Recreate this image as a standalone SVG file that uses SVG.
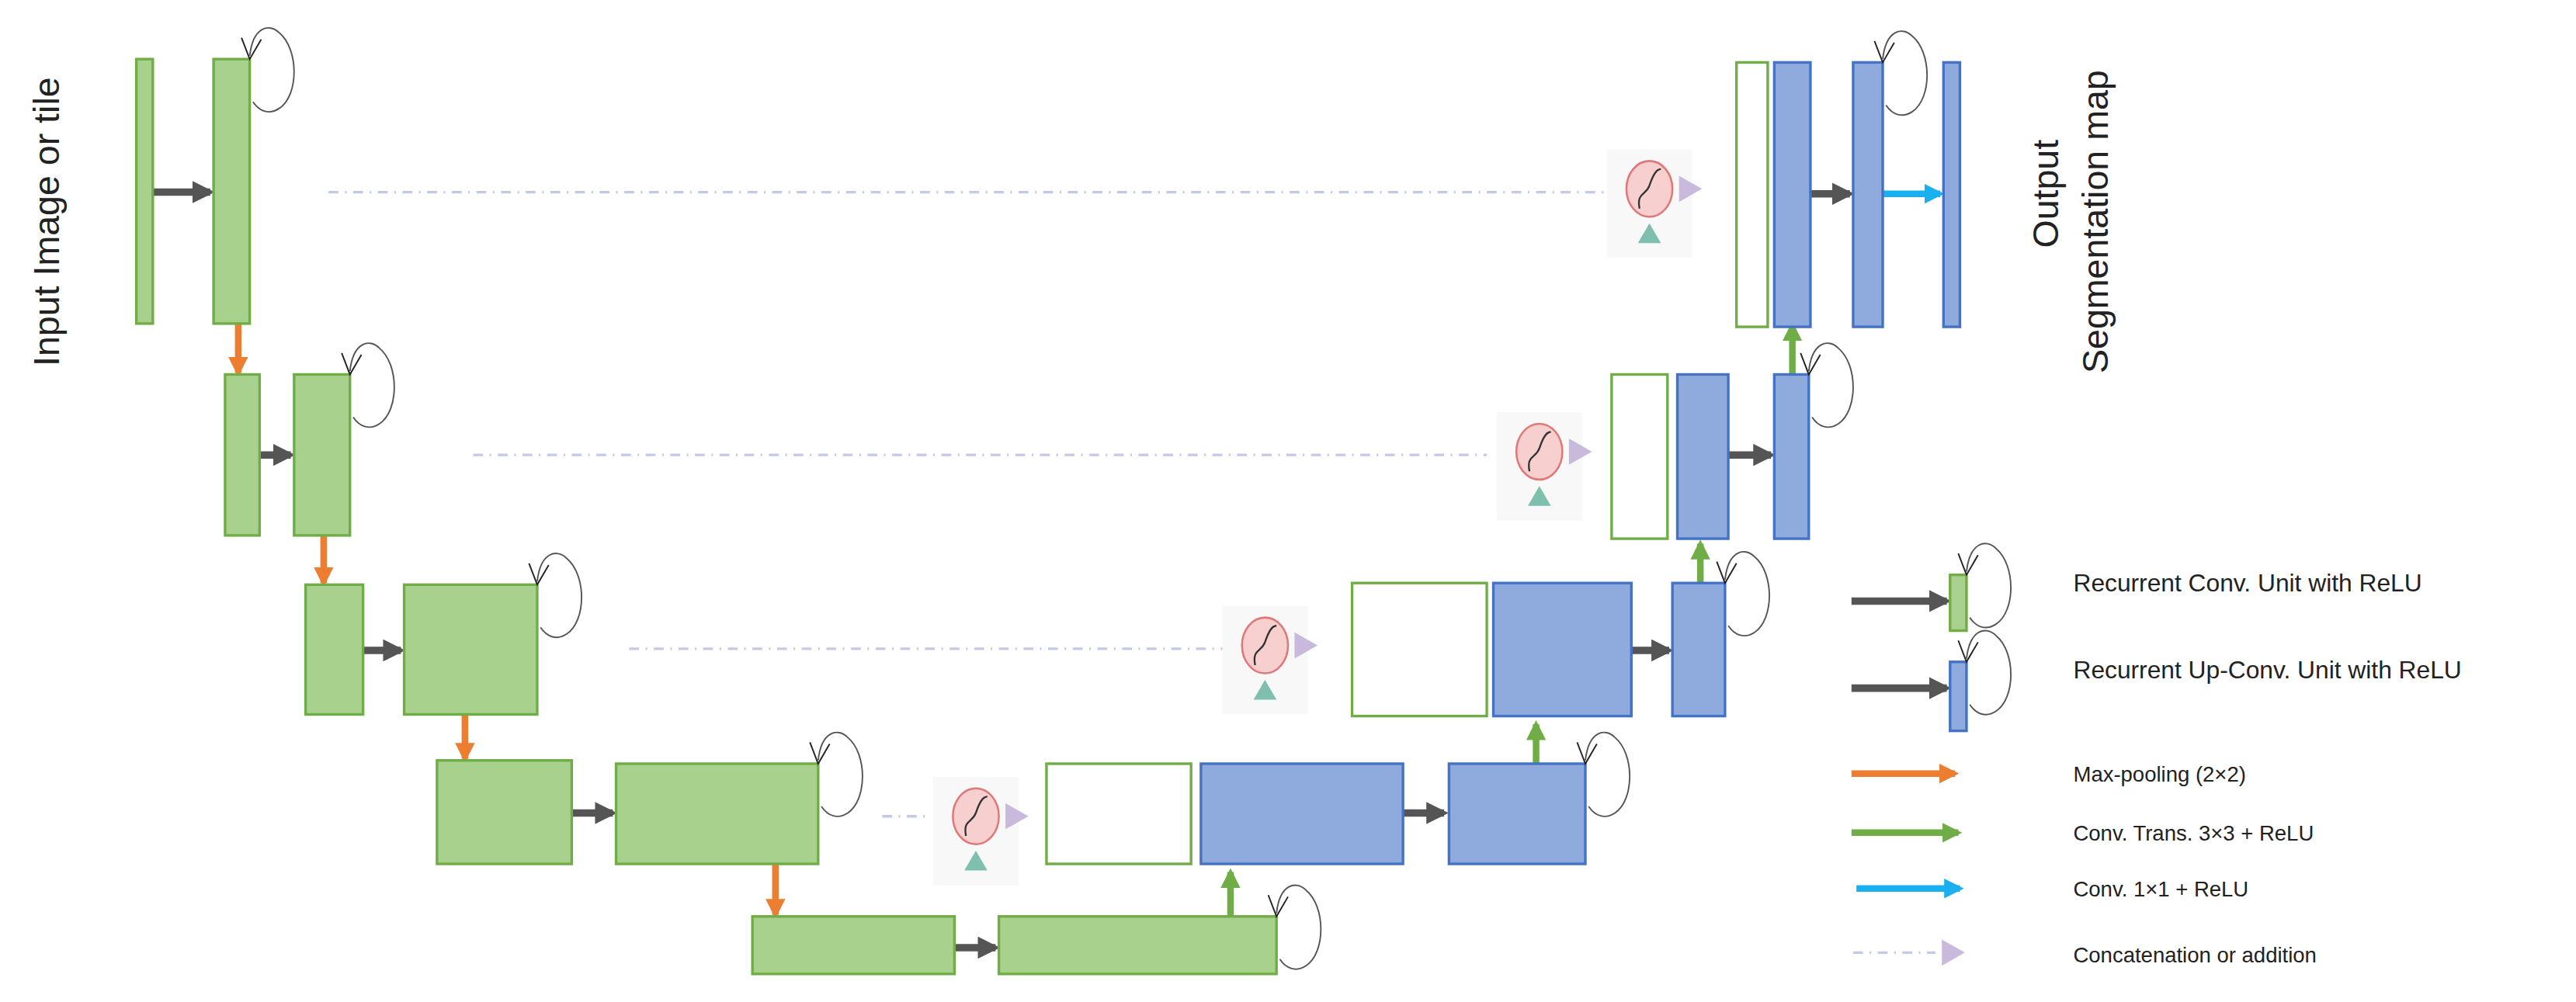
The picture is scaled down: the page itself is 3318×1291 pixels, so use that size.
<svg xmlns="http://www.w3.org/2000/svg" width="3318" height="1291" viewBox="0 0 3318 1291">
<style>
.g{fill:#a9d18e;stroke:#70ad47;stroke-width:1.6}
.b{fill:#8faadc;stroke:#4472c4;stroke-width:1.6}
.w{fill:#fff;stroke:#70ad47;stroke-width:1.6}
.lp{fill:none;stroke:#555;stroke-width:0.9}
.ah{fill:none;stroke:#222;stroke-width:0.9}
.dash{stroke:#c3c9e6;stroke-width:1.6;stroke-dasharray:6 4 1 4;fill:none}
.gr{stroke:#555;stroke-width:4.5;fill:none;marker-end:url(#mg)}
.or{stroke:#ed7d31;stroke-width:4;fill:none;marker-end:url(#mo)}
.gn{stroke:#70ad47;stroke-width:4;fill:none;marker-end:url(#mn)}
.cy{stroke:#1ab0f0;stroke-width:4;fill:none;marker-end:url(#mc)}
.t{font-family:"Liberation Sans",Arial,sans-serif;fill:#222}
.bg{fill:#f8f8f8}
.sg{fill:#f7cfcf;stroke:#e07878;stroke-width:1.2}
.sc{fill:none;stroke:#333;stroke-width:1.1}
.pt{fill:#c9b9dc}
.tt{fill:#7fbfb0}
</style>
<defs>
<marker id="mg" viewBox="0 0 10 10" refX="8" refY="5" markerWidth="3" markerHeight="3" orient="auto"><path d="M0,0L10,5L0,10z" fill="#555"/></marker>
<marker id="mo" viewBox="0 0 10 10" refX="8" refY="5" markerWidth="3" markerHeight="3" orient="auto"><path d="M0,0L10,5L0,10z" fill="#ed7d31"/></marker>
<marker id="mn" viewBox="0 0 10 10" refX="8" refY="5" markerWidth="3" markerHeight="3" orient="auto"><path d="M0,0L10,5L0,10z" fill="#70ad47"/></marker>
<marker id="mc" viewBox="0 0 10 10" refX="8" refY="5" markerWidth="3" markerHeight="3" orient="auto"><path d="M0,0L10,5L0,10z" fill="#1ab0f0"/></marker>
<g id="loop"><path class="lp" d="M0,-2 C2,-20 12,-22 18,-16 C30,-6 30,22 18,30 C12,34 6,32 2,26"/><path class="ah" d="M-5,-13 L0,0 L7,-12"/></g>
<g id="sig"><rect class="bg" x="-26" y="-24" width="52" height="66"/><ellipse class="sg" cx="0" cy="0" rx="14" ry="17"/><path class="sc" d="M-6,12 C-8,2 -2,4 0,-2 C2,-8 4,-12 7,-12"/><path class="pt" d="M18,-8 L32,0 L18,8z"/><path class="tt" d="M0,21 L7,33 L-7,33z"/></g>
</defs>
<rect width="3318" height="1291" fill="#fff"/>
<g transform="scale(2.11607)">
<text class="t" font-size="22" transform="translate(36,135) rotate(-90)" text-anchor="middle">Input Image or tile</text>
<text class="t" font-size="22" transform="translate(1253,118) rotate(-90)" text-anchor="middle">Output</text>
<text class="t" font-size="22" transform="translate(1283,135) rotate(-90)" text-anchor="middle">Segmentation map</text>

<g id="connectors">
<path class="dash" d="M200,117H985"/>
<path class="dash" d="M288,277H905"/>
<path class="dash" d="M383,395H745"/>
<path class="dash" d="M537,497H566"/>
<path class="gr" d="M93,117H128"/>
<path class="gr" d="M158,277H177"/>
<path class="gr" d="M221,396H244"/>
<path class="gr" d="M348,495H373"/>
<path class="gr" d="M581,577H606"/>
<path class="gr" d="M854,495H879"/>
<path class="gr" d="M993,396H1016"/>
<path class="gr" d="M1052,277H1078"/>
<path class="gr" d="M1102,118H1126"/>
<path class="cy" d="M1146,118H1181"/>
<path class="or" d="M145,197V227"/>
<path class="or" d="M197,326V355"/>
<path class="or" d="M283,435V462"/>
<path class="or" d="M472,526V557"/>
<path class="gn" d="M749,558V531"/>
<path class="gn" d="M935,465V441"/>
<path class="gn" d="M1035,355V331"/>
<path class="gn" d="M1091,228V198"/>
</g>

<g id="enc1"><rect class="g" x="83" y="36" width="10" height="161"/></g>
<g id="enc1b"><rect class="g" x="130" y="36" width="22" height="161"/><use href="#loop" x="152" y="36"/></g>
<g id="enc2"><rect class="g" x="137" y="228" width="21" height="98"/></g>
<g id="enc2b"><rect class="g" x="179" y="228" width="34" height="98"/><use href="#loop" x="213" y="228"/></g>
<g id="enc3"><rect class="g" x="186" y="356" width="35" height="79"/></g>
<g id="enc3b"><rect class="g" x="246" y="356" width="81" height="79"/><use href="#loop" x="327" y="356"/></g>
<g id="enc4"><rect class="g" x="266" y="463" width="82" height="63"/></g>
<g id="enc4b"><rect class="g" x="375" y="465" width="123" height="61"/><use href="#loop" x="498" y="465"/></g>
<g id="enc5"><rect class="g" x="458" y="558" width="123" height="35"/></g>
<g id="enc5b"><rect class="g" x="608" y="558" width="169" height="35"/><use href="#loop" x="777" y="558"/></g>

<g id="sig4"><use href="#sig" x="594" y="497"/></g>
<g id="dec4"><rect class="w" x="637" y="465" width="88" height="61"/><rect class="b" x="731" y="465" width="123" height="61"/></g>
<g id="dec4b"><rect class="b" x="882" y="465" width="83" height="61"/><use href="#loop" x="965" y="465"/></g>
<g id="sig3"><use href="#sig" x="770" y="393"/></g>
<g id="dec3"><rect class="w" x="823" y="355" width="82" height="81"/><rect class="b" x="909" y="355" width="84" height="81"/></g>
<g id="dec3b"><rect class="b" x="1018" y="355" width="32" height="81"/><use href="#loop" x="1050" y="355"/></g>
<g id="sig2"><use href="#sig" x="937" y="275"/></g>
<g id="dec2"><rect class="w" x="981" y="228" width="34" height="100"/><rect class="b" x="1021" y="228" width="31" height="100"/></g>
<g id="dec2b"><rect class="b" x="1080" y="228" width="21" height="100"/><use href="#loop" x="1101" y="228"/></g>
<g id="sig1"><use href="#sig" x="1004" y="115"/></g>
<g id="dec1"><rect class="w" x="1057" y="38" width="19" height="161"/><rect class="b" x="1080" y="38" width="22" height="161"/></g>
<g id="dec1b"><rect class="b" x="1128" y="38" width="18" height="161"/><use href="#loop" x="1146" y="38"/></g>
<g id="out"><rect class="b" x="1183" y="38" width="10" height="161"/></g>

<g id="legend">
<path class="gr" d="M1127,366H1185"/><rect class="g" x="1187" y="350" width="10" height="34"/><use href="#loop" x="1197" y="350"/>
<text class="t" font-size="15" x="1262" y="360">Recurrent Conv. Unit with ReLU</text>
<path class="gr" d="M1127,419H1185"/><rect class="b" x="1187" y="403" width="10" height="42"/><use href="#loop" x="1197" y="403"/>
<text class="t" font-size="15" x="1262" y="413">Recurrent Up-Conv. Unit with ReLU</text>
<path class="or" d="M1127,471H1190"/>
<text class="t" font-size="13" x="1262" y="476">Max-pooling (2×2)</text>
<path class="gn" d="M1127,507H1192"/>
<text class="t" font-size="13" x="1262" y="512">Conv. Trans. 3×3 + ReLU</text>
<path class="cy" d="M1130,541H1193"/>
<text class="t" font-size="13" x="1262" y="546">Conv. 1×1 + ReLU</text>
<path class="dash" d="M1128,580H1178"/><path class="pt" d="M1182,572L1196,580L1182,588z"/>
<text class="t" font-size="13" x="1262" y="586">Concatenation or addition</text>
</g>
</g>
</svg>
